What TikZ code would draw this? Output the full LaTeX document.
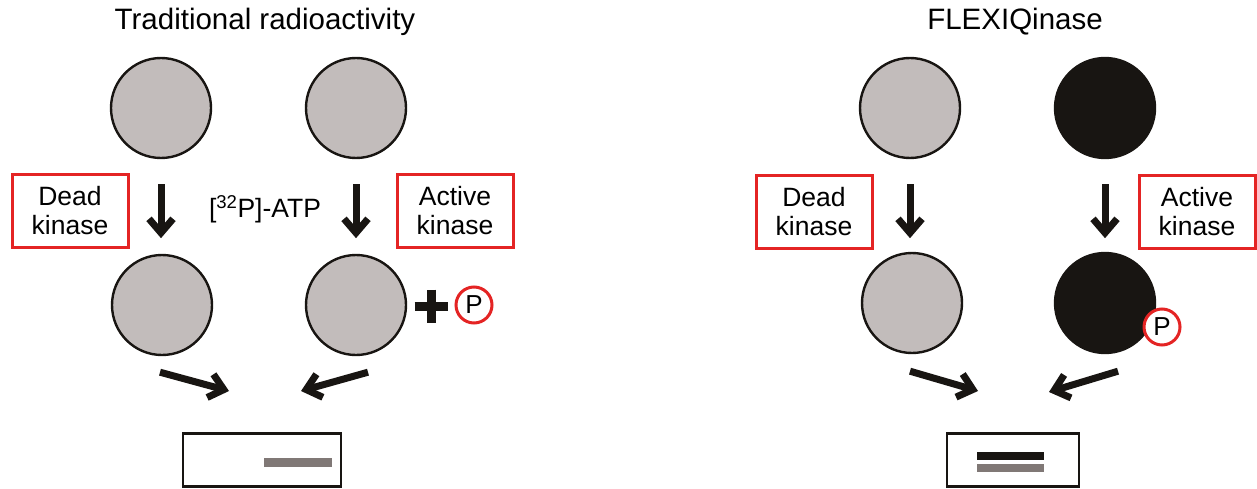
\documentclass[tikz,border=0pt]{standalone}
\usepackage{fontspec}
\setmainfont{Liberation Sans}
\usetikzlibrary{arrows.meta,calc}
\definecolor{cgray}{RGB}{194,188,187}
\definecolor{bargray}{RGB}{128,120,118}
\definecolor{kred}{RGB}{228,36,36}
\definecolor{kblack}{RGB}{24,21,18}
\begin{document}
\begin{tikzpicture}[x=1pt,y=-1pt,
  mol/.style={circle,draw=kblack,line width=2.4pt,minimum size=100pt,inner sep=0pt,fill=cgray},
  molb/.style={mol,fill=kblack},
  lbl/.style={draw=kred,line width=3pt,minimum width=116pt,minimum height=73pt,align=center,
    font=\fontsize{26.5}{29}\selectfont,inner sep=0pt},
  arr/.style={line width=7pt,draw=kblack,-{Straight Barb[length=14pt,width=24pt]}},
  phos/.style={circle,draw=kred,line width=3pt,fill=white,minimum size=36pt,inner sep=0pt,
    font=\fontsize{26}{26}\selectfont},
  ttl/.style={font=\fontsize{29.5}{32}\selectfont},
  gel/.style={draw=kblack,line width=2.5pt,fill=white}
]
\useasboundingbox (0,0) rectangle (1257,489);

% ---------- Left panel ----------
\node[ttl] (t1) at (265,22) {Traditional radioactivity};
\node[mol] (a1) at (161,108) {};
\node[mol] (b1) at (356,108) {};
\node[mol] (a2) at (162,305) {};
\node[mol] (b2) at (356,305) {};
\node[lbl] (dk1) at (70,211) {Dead\\kinase};
\node[lbl] (ak1) at (455,211) {Active\\kinase};
\node[font=\fontsize{26.5}{29}\selectfont] (atp) at (265,209) {[\textsuperscript{32}P]-ATP};
\draw[arr] (a1.south) ++(0,25) coordinate (a1s) -- ++(0,54) coordinate (a1e);
\draw[arr] (b1.south) ++(0,25) coordinate (b1s) -- ++(0,54) coordinate (b1e);
% plus sign and phosphate
\coordinate (plus) at (431,306);
\draw[line width=9pt,kblack] ($(plus)+(-16.5,0)$) -- ($(plus)+(16.5,0)$);
\draw[line width=9pt,kblack] ($(plus)+(0,-16.5)$) -- ($(plus)+(0,16.5)$);
\node[phos] (p1) at (474,305) {P};
% convergence arrows
\coordinate (g1l) at (229,391);
\coordinate (g1r) at (301,391);
\draw[arr] ($(a2.south)+(-2,16)$) coordinate (a2s) -- (g1l);
\draw[arr] ($(b2.south)+(12,16)$) coordinate (b2s) -- (g1r);
% gel
\node[gel,minimum width=158pt,minimum height=53pt,inner sep=0pt] (gel1) at (262,460) {};
\fill[bargray] (264,458) rectangle (332,467);

% ---------- Right panel ----------
\node[ttl] (t2) at (1015,22) {FLEXIQinase};
\node[mol] (c1) at (910,108) {};
\node[molb] (d1) at (1105,108) {};
\node[mol] (c2) at (912,303) {};
\node[molb] (d2) at (1105,303) {};
\node[lbl] (dk2) at (814,212) {Dead\\kinase};
\node[lbl] (ak2) at (1197,212) {Active\\kinase};
\draw[arr] (c1.south) ++(0,25) -- ++(0,54);
\draw[arr] (d1.south) ++(0,25) -- ++(0,54);
\node[phos] (p2) at (1162,327) {P};
\coordinate (g2l) at (978,391);
\coordinate (g2r) at (1049,392);
\draw[arr] ($(c2.south)+(-2,17)$) -- (g2l);
\draw[arr] ($(d2.south)+(13,17)$) -- (g2r);
\node[gel,minimum width=132pt,minimum height=53pt,inner sep=0pt] (gel2) at (1013,460) {};
\fill[kblack] (977,452) rectangle (1044,459.5);
\fill[bargray] (977,464) rectangle (1044,472);
\end{tikzpicture}
\end{document}
